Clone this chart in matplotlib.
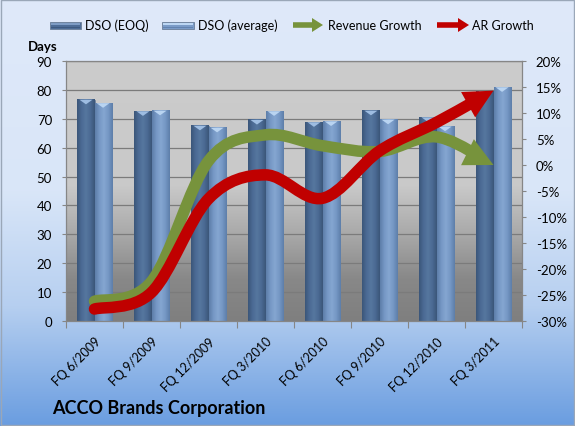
import numpy as np
import matplotlib
matplotlib.use('Agg')
import matplotlib.pyplot as plt
from matplotlib.path import Path
from matplotlib.patches import PathPatch, Polygon, Rectangle
from matplotlib.colors import LinearSegmentedColormap
from matplotlib.ticker import FuncFormatter
from matplotlib.bezier import split_de_casteljau
from matplotlib.transforms import IdentityTransform, ScaledTranslation

# ---------------- data ----------------
categories = ['FQ 6/2009', 'FQ 9/2009', 'FQ 12/2009', 'FQ 3/2010',
              'FQ 6/2010', 'FQ 9/2010', 'FQ 12/2010', 'FQ 3/2011']
dso_eoq = [76.6, 72.6, 67.6, 69.6, 68.8, 72.8, 70.5, 79.6]
dso_avg = [75.4, 72.8, 66.9, 72.6, 69.1, 69.7, 67.3, 80.9]
revenue_growth = [-26.2, -22.4, 0.8, 5.8, 3.7, 2.6, 5.4, 0.0]
ar_growth = [-27.7, -24.5, -6.5, -1.9, -6.4, 2.7, 8.2, 14.3]
left_ticks = list(range(0, 91, 10))
right_ticks = list(range(-30, 21, 5))
series_names = ['DSO (EOQ)', 'DSO (average)', 'Revenue Growth', 'AR Growth']
title = 'ACCO Brands Corporation'
left_label = 'Days'

plt.rcParams['font.family'] = ['Lato', 'DejaVu Sans']

W, H = 575, 427
fig = plt.figure(figsize=(W / 100, H / 100), dpi=100)

# ---------------- background (pixel coords, y down) ----------------
bg = fig.add_axes([0, 0, 1, 1], zorder=0)
bg.set_xlim(0, W)
bg.set_ylim(H, 0)
bg.axis('off')
fig_cmap = LinearSegmentedColormap.from_list(
    'figbg', [(0, '#dfe9fa'), (0.45, '#d9e6f8'), (0.72, '#b6cff0'), (1, '#6a9de0')])
grad = np.linspace(0, 1, 256).reshape(-1, 1)
bg.imshow(grad, cmap=fig_cmap, extent=[0, W, H, 0], aspect='auto', zorder=0)
bg.add_patch(Rectangle((0.5, 0.5), W - 1.5, H - 1.5, fill=False, ec='#9aa7b8', lw=1, zorder=1))

PL, PR, PT, PB = 66, 522, 62, 322
plot_cmap = LinearSegmentedColormap.from_list(
    'plotbg', [(0, '#cccccc'), (0.48, '#c9c9c9'), (0.66, '#aaaaaa'), (0.84, '#888888'), (1, '#7f7f7f')])
bg.imshow(grad, cmap=plot_cmap, extent=[PL, PR, PB, PT], aspect='auto', zorder=1)

# ---------------- main axes ----------------
ax = fig.add_axes([PL / W, (H - PB) / H, (PR - PL) / W, (PB - PT) / H], zorder=1)
ax.patch.set_visible(False)
n = len(categories)
x = np.arange(n)
bw = 0.3
ax.set_xlim(-0.5, n - 0.5)
ax.set_ylim(left_ticks[0], left_ticks[-1])
ax.set_yticks(left_ticks)
ax.yaxis.grid(True, color='#7b7b7b', lw=0.9)
ax.set_axisbelow(True)

eoq_cmap = LinearSegmentedColormap.from_list('eoq', ['#3b5679', '#4b6a94', '#56779f', '#4b6a93', '#3b5679'])
avg_cmap = LinearSegmentedColormap.from_list('avg', ['#5d7ea9', '#7698c5', '#85a6d1', '#7597c4', '#5d7ea9'])
hgrad = np.linspace(0, 1, 64).reshape(1, -1)

def draw_bars(xpos, vals, base, cmap, cone):
    bars = ax.bar(xpos, vals, bw, color=base, edgecolor='#6a7e98', lw=0.5, zorder=2)
    for b in bars:
        x0, w, h = b.get_x(), b.get_width(), b.get_height()
        ax.imshow(hgrad, cmap=cmap, extent=[x0, x0 + w, 0, h], aspect='auto', zorder=2.1)
        ax.add_patch(Polygon([(x0 + 0.12 * w, h), (x0 + 0.88 * w, h), (x0 + 0.5 * w, h - 1.6)],
                             closed=True, fc=cone, ec='none', zorder=2.2))
    return bars

draw_bars(x - bw / 2, dso_eoq, '#4a6994', eoq_cmap, '#9ebde2')
draw_bars(x + bw / 2, dso_avg, '#7396c4', avg_cmap, '#b9d4f1')
ax.set_xlim(-0.5, n - 0.5)
ax.set_ylim(left_ticks[0], left_ticks[-1])

ax.set_xticks(np.arange(-0.5, n, 1))
ax.set_xticklabels([])
ax.set_xticks(x, minor=True)
ax.set_xticklabels(categories, minor=True, rotation=45, ha='right', va='top',
                   rotation_mode='anchor', fontsize=9)
shift = ScaledTranslation(3 / 72, 0, fig.dpi_scale_trans)
for lab in ax.get_xticklabels(minor=True):
    lab.set_transform(lab.get_transform() + shift)
ax.tick_params(axis='x', which='major', length=5, color='#868686', direction='out')
ax.tick_params(axis='x', which='minor', length=0, pad=10)
ax.tick_params(axis='y', length=3, pad=7, color='#868686', labelsize=9.5)
for s in ax.spines.values():
    s.set_color('#868686')
    s.set_linewidth(0.9)

ax2 = ax.twinx()
ax2.patch.set_visible(False)
ax2.set_ylim(right_ticks[0], right_ticks[-1])
ax2.set_yticks(right_ticks)
ax2.yaxis.set_major_formatter(FuncFormatter(lambda v, p: f'{v:.0f}%'))
ax2.tick_params(axis='y', length=3, pad=7, color='#868686', labelsize=9.5)
for s in ax2.spines.values():
    s.set_visible(False)


# ---------------- smoothed arrows (display coords) ----------------
def bez(seg, t):
    p0, p1, p2, p3 = seg
    return ((1 - t) ** 3) * p0 + 3 * ((1 - t) ** 2) * t * p1 + 3 * (1 - t) * t ** 2 * p2 + t ** 3 * p3

def smooth_arrow(axx, ys, color, lw_px, head_len, head_w, z):
    P = axx.transData.transform(np.column_stack([x, ys]))
    m = len(P)
    segs = []
    for i in range(m - 1):
        p0 = P[i - 1] if i > 0 else P[i]
        p1, p2 = P[i], P[i + 1]
        p3 = P[i + 2] if i + 2 < m else P[i + 1]
        segs.append(np.array([p1, p1 + (p2 - p0) / 6, p2 - (p3 - p1) / 6, p2]))
    last = segs[-1]
    tip = last[3]
    d = last[3] - last[2]
    d = d / np.linalg.norm(d)
    ts = np.linspace(0, 1, 400)
    dist = np.array([np.linalg.norm(bez(last, t) - tip) for t in ts])
    t_cut = ts[np.argmin(np.abs(dist - head_len * 0.6))]
    left, _ = split_de_casteljau(last, t_cut)
    segs[-1] = np.array(left)
    verts = [segs[0][0]]
    codes = [Path.MOVETO]
    for s in segs:
        verts += list(s[1:])
        codes += [Path.CURVE4] * 3
    axx.add_patch(PathPatch(Path(verts, codes), fill=False, ec=color, lw=lw_px * 0.72,
                            capstyle='round', joinstyle='round',
                            transform=IdentityTransform(), zorder=z))
    perp = np.array([-d[1], d[0]])
    base = tip - d * head_len
    axx.add_patch(Polygon([tip, base + perp * head_w / 2, base - perp * head_w / 2],
                          closed=True, fc=color, ec='none',
                          transform=IdentityTransform(), zorder=z))

GREEN = '#77933c'
RED = '#c00000'
smooth_arrow(ax2, revenue_growth, GREEN, 11.5, 29, 29, 3)
smooth_arrow(ax2, ar_growth, RED, 11.5, 29, 29, 4)

# ---------------- legend (pixel coords) ----------------
LY = 26
def swatch(x0, x1, c_main, c_light, c_dark):
    bg.add_patch(Rectangle((x0, LY - 3.5), x1 - x0, 7, fc=c_main, ec='#6a7e98', lw=0.6, zorder=3))
    bg.add_patch(Rectangle((x0 + 1, LY - 2.5), x1 - x0 - 2, 2, fc=c_light, ec='none', zorder=3))
    bg.add_patch(Rectangle((x0 + 1, LY + 1.5), x1 - x0 - 2, 1.5, fc=c_dark, ec='none', zorder=3))

def leg_arrow(x0, x1, color):
    bg.plot([x0 + 2, x1 - 9], [LY, LY], color=color, lw=4, solid_capstyle='butt', zorder=3)
    bg.add_patch(Polygon([(x1, LY), (x1 - 11, LY - 7), (x1 - 11, LY + 7)], closed=True,
                         fc=color, ec='none', zorder=3))

swatch(50, 81, '#4d6c96', '#7e9cc4', '#3e5a80')
bg.text(85, LY, series_names[0], fontsize=9, va='center', ha='left', zorder=3)
swatch(162, 194, '#7a9bc8', '#bcd6f3', '#6283b0')
bg.text(198, LY, series_names[1], fontsize=9, va='center', ha='left', zorder=3)
leg_arrow(291, 323, GREEN)
bg.text(328, LY, series_names[2], fontsize=9, va='center', ha='left', zorder=3)
leg_arrow(435, 469, RED)
bg.text(472, LY, series_names[3], fontsize=9, va='center', ha='left', zorder=3)

bg.text(28, 47, left_label, fontsize=9.5, fontweight='bold', va='center', ha='left', zorder=3)
bg.text(52, 409, title, fontsize=13, fontweight='bold', va='center', ha='left', zorder=3)

fig.savefig('out.png', dpi=100)
